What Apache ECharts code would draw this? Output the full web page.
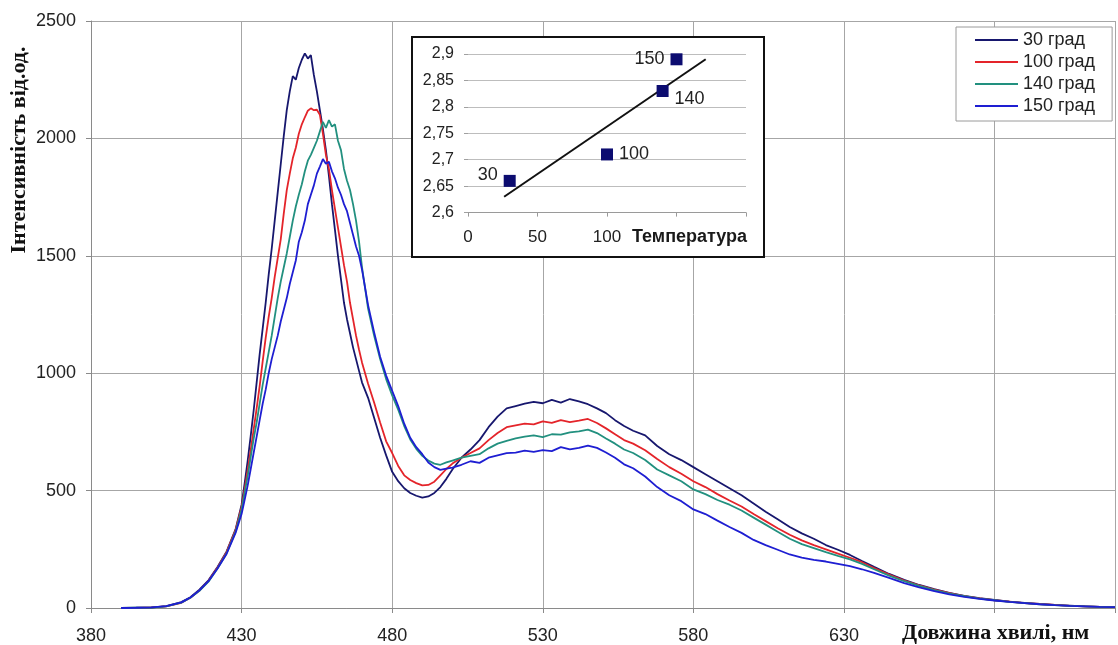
<!DOCTYPE html>
<html>
<head>
<meta charset="utf-8">
<script src="https://cdn.jsdelivr.net/npm/echarts@6/dist/echarts.min.js"></script>
<style>
html,body{margin:0;padding:0;background:#fff;}
#chart{width:1118px;height:645px;}
</style>
</head>
<body>
<div id="chart"></div>
<script>
// ---- main spectra data ----
const wavelengths = [390,395,400,405,410,413,416,419,422,425,428,
430,431,432,433,434,435,436,437,438,439,440,441,442,443,444,445,446,447,448,449,450,451,452,453,454,455,456,457,458,459,460,461,462,463,464,465,466,467,468,469,470,
472,474,476,478,480,482,484,486,488,490,492,494,496,498,500,
503,506,509,512,515,518,521,524,527,530,533,536,539,542,545,548,551,554,557,560,
564,568,572,576,580,584,588,592,596,600,604,608,612,616,620,624,628,632,
636,640,645,650,655,660,665,670,675,680,685,690,695,700,705,710,715,720];

const s30 = [0,1,2,8,25,46,78,118,175,240,335,
440,530,625,730,840,960,1080,1190,1300,1420,1530,1650,1770,1890,2010,2120,2200,2265,2250,2300,2335,2362,2340,2355,2270,2200,2120,2040,1950,1840,1720,1610,1500,1400,1300,1230,1170,1110,1060,1010,960,
895,810,725,650,580,540,510,490,478,470,475,490,515,550,590,
640,675,715,770,815,850,860,870,878,872,886,875,890,880,868,850,830,800,775,755,
735,690,655,630,600,570,540,510,480,445,410,378,345,318,295,268,248,226,
200,175,145,120,98,80,64,52,42,34,27,22,17,13,10,7,5,4];

const s100 = [0,0,3,7,22,44,74,115,172,238,332,
430,505,585,670,760,850,945,1050,1150,1240,1320,1410,1490,1570,1680,1780,1850,1915,1960,2020,2060,2090,2118,2128,2120,2122,2100,2020,1930,1870,1780,1700,1620,1540,1460,1390,1300,1230,1160,1100,1045,
955,875,790,710,660,605,565,545,532,522,524,538,565,592,615,
640,660,680,715,745,770,778,785,782,795,788,800,792,798,805,788,765,740,715,700,
672,635,600,572,540,515,485,458,432,400,370,340,312,288,268,250,232,214,
195,170,142,117,96,78,63,51,41,33,27,21,17,13,9,7,5,4];

const s140 = [0,1,2,7,23,44,73,112,168,232,325,
420,490,560,640,720,790,870,950,1020,1090,1160,1240,1320,1390,1450,1510,1580,1650,1710,1760,1805,1860,1905,1930,1960,1990,2030,2070,2045,2078,2050,2060,1990,1950,1870,1820,1780,1720,1650,1560,1450,
1275,1160,1060,975,905,845,775,718,678,648,628,615,610,620,628,
640,648,655,680,700,712,722,730,735,728,740,738,748,752,760,745,722,700,675,660,
630,590,565,540,505,485,460,440,415,385,355,325,295,272,255,238,222,207,
188,165,138,114,94,76,61,50,40,33,26,21,16,12,9,7,5,4];

const s150 = [0,1,3,8,24,45,75,114,168,230,320,
400,460,520,590,660,730,800,870,930,1000,1060,1110,1160,1220,1270,1320,1380,1430,1480,1560,1600,1650,1720,1760,1800,1850,1880,1912,1892,1900,1860,1830,1790,1760,1720,1690,1640,1590,1540,1500,1440,
1290,1175,1070,990,925,860,785,725,685,655,620,600,588,594,598,
610,625,618,640,650,660,662,670,665,672,668,685,676,682,692,682,662,640,612,595,
560,515,480,455,420,400,372,345,320,290,268,248,228,215,205,198,188,178,
165,150,128,106,88,72,58,47,39,32,26,21,16,12,9,7,5,4];

const seriesNames = ['30 град','100 град','140 град','150 град'];
const seriesColors = ['#17176e','#e4242a','#22907f','#1e1ed2'];

// ---- inset data ----
const tempX = [30,100,140,150];
const energyY = [2.66,2.71,2.83,2.89];
const pointLabels = ['30','100','140','150'];
const trendX = [26,171];
const trendY = [2.63,2.89];

const mainXTitle = 'Довжина хвилі, нм';
const mainYTitle = 'Інтенсивність від.од.';
const insetXTitle = 'Температура';

const SANS = '"Liberation Sans", Arial, sans-serif';
const SERIF = '"Liberation Serif", "Times New Roman", serif';

const chart = echarts.init(document.getElementById('chart'), null, {renderer:'canvas'});

const allSeries = [s30, s100, s140, s150];
const lineSeries = allSeries.map((arr, k) => ({
  name: seriesNames[k],
  type: 'line',
  xAxisIndex: 0, yAxisIndex: 0,
  data: wavelengths.map((w, i) => [w, arr[i]]),
  showSymbol: false,
  symbol: 'none',
  color: seriesColors[k],
  lineStyle: {width: 1.8, color: seriesColors[k]},
  z: 2 + k * 0.1,
  animation: false
}));

const labelPos = ['left','right','right','left'];
const labelOff = [[-2,-6],[2,0],[2,8],[-2,0]];

const option = {
  animation: false,
  backgroundColor: '#ffffff',
  grid: [
    {left: 91, top: 21, right: 0, bottom: 37, containLabel: false},
    {left: 468, top: 54, width: 278, height: 158.6, containLabel: false}
  ],
  xAxis: [
    {
      type: 'value', gridIndex: 0, min: 380, max: 720, interval: 50,
      axisLine: {show: true, lineStyle: {color: '#8a8a8a', width: 1}},
      axisTick: {show: true, length: 5, lineStyle: {color: '#8a8a8a'}},
      splitLine: {show: true, lineStyle: {color: '#a6a6a6', width: 1}},
      axisLabel: {
        margin: 19, fontSize: 18, fontFamily: SANS, color: '#222',
        formatter: v => (v >= 680 ? '' : String(v))
      }
    },
    {
      type: 'value', gridIndex: 1, min: 0, max: 200, interval: 50, z: 11,
      axisLine: {show: true, onZero: false, lineStyle: {color: '#9a9a9a', width: 1}},
      axisTick: {show: true, length: 4, lineStyle: {color: '#9a9a9a'}},
      splitLine: {show: false},
      axisLabel: {
        margin: 16, fontSize: 17, fontFamily: SANS, color: '#222',
        formatter: v => (v <= 100 ? String(v) : '')
      }
    }
  ],
  yAxis: [
    {
      type: 'value', gridIndex: 0, min: 0, max: 2500, interval: 500,
      axisLine: {show: true, lineStyle: {color: '#8a8a8a', width: 1}},
      axisTick: {show: true, length: 5, lineStyle: {color: '#8a8a8a'}},
      splitLine: {show: true, lineStyle: {color: '#a6a6a6', width: 1}},
      axisLabel: {margin: 15, fontSize: 18, fontFamily: SANS, color: '#222',
                  formatter: v => String(v)}
    },
    {
      type: 'value', gridIndex: 1, min: 2.6, max: 2.9, interval: 0.05, z: 11,
      axisLine: {show: false},
      axisTick: {show: true, length: 4, lineStyle: {color: '#a0a0a0'}},
      splitLine: {show: true, lineStyle: {color: '#bdbdbd', width: 1}},
      axisLabel: {
        margin: 14, fontSize: 16, fontFamily: SANS, color: '#222',
        formatter: v => String(parseFloat(v.toFixed(2))).replace('.', ',')
      }
    }
  ],
  legend: {
    orient: 'vertical', left: 956, top: 27,
    icon: 'rect', itemWidth: 43, itemHeight: 2, itemGap: 4,
    padding: [4, 17, 6, 19],
    borderColor: '#9a9a9a', borderWidth: 1, backgroundColor: '#ffffff',
    textStyle: {fontSize: 18, fontFamily: SANS, color: '#222', lineHeight: 18},
    data: seriesNames
  },
  graphic: [
    {
      type: 'rect', z: 10,
      shape: {x: 412, y: 37, width: 352, height: 220},
      style: {fill: '#ffffff', stroke: '#111', lineWidth: 2}
    },
    {
      type: 'text', z: 12, x: 632, y: 237,
      style: {text: insetXTitle, font: 'bold 18px ' + SANS, fill: '#1a1a1a',
              textAlign: 'left', textVerticalAlign: 'middle', verticalAlign: 'middle'}
    },
    {
      type: 'text', z: 12, x: 902, y: 633,
      style: {text: mainXTitle, font: 'bold 22px ' + SERIF, fill: '#111',
              textAlign: 'left', textVerticalAlign: 'middle', verticalAlign: 'middle'}
    },
    {
      type: 'text', z: 12, x: 19, y: 150, rotation: Math.PI / 2,
      style: {text: mainYTitle, font: 'bold 22px ' + SERIF, fill: '#111',
              textAlign: 'center', textVerticalAlign: 'middle', verticalAlign: 'middle'}
    }
  ],
  series: lineSeries.concat([
    {
      type: 'line', xAxisIndex: 1, yAxisIndex: 1, z: 12,
      data: trendX.map((x, i) => [x, trendY[i]]),
      showSymbol: false, symbol: 'none',
      lineStyle: {color: '#111', width: 2},
      silent: true
    },
    {
      type: 'scatter', xAxisIndex: 1, yAxisIndex: 1, z: 13,
      symbol: 'rect', symbolSize: 12,
      itemStyle: {color: '#0c0c70', opacity: 1},
      data: tempX.map((x, i) => ({
        value: [x, energyY[i]],
        label: {
          show: true, position: labelPos[i], offset: labelOff[i],
          formatter: pointLabels[i], fontSize: 18, fontFamily: SANS, color: '#222', distance: 4
        }
      }))
    }
  ])
};

chart.setOption(option);
</script>
</body>
</html>
